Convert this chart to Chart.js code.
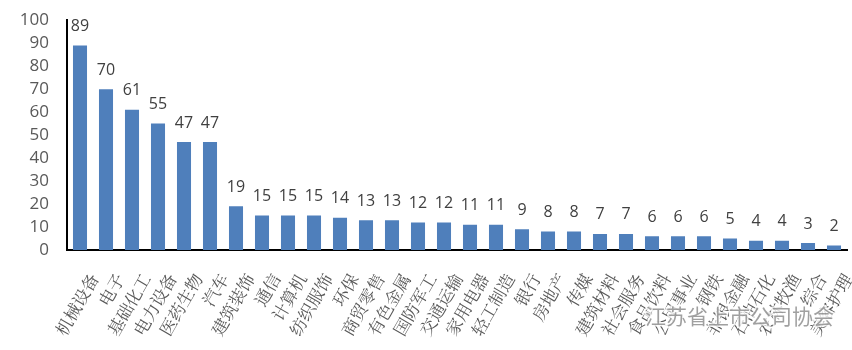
<!DOCTYPE html>
<html>
<head>
<meta charset="utf-8">
<script src="https://cdn.jsdelivr.net/npm/chart.js@4.4.1/dist/chart.umd.min.js"></script>
<style>
  html, body { margin: 0; padding: 0; background: #fff; }
  #wrap { width: 852px; height: 350px; position: relative; }
</style>
</head>
<body>
<div id="wrap"><canvas id="chart"></canvas></div>
<script>
// 行业分布
const industries = ['机械设备', '电子', '基础化工', '电力设备', '医药生物', '汽车', '建筑装饰', '通信',
  '计算机', '纺织服饰', '环保', '商贸零售', '有色金属', '国防军工', '交通运输', '家用电器', '轻工制造',
  '银行', '房地产', '传媒', '建筑材料', '社会服务', '食品饮料', '公用事业', '钢铁', '非银金融',
  '石油石化', '农林牧渔', '综合', '美容护理'];
const counts = [89, 70, 61, 55, 47, 47, 19, 15, 15, 15, 14, 13, 13, 12, 12, 11, 11, 9, 8, 8, 7, 7, 6, 6, 6, 5, 4, 4, 3, 2];
const yTicks = [0, 10, 20, 30, 40, 50, 60, 70, 80, 90, 100];
const watermark = '江苏省上市公司协会';

// value labels above bars + watermark
const barLabels = {
  id: 'barLabels',
  afterDatasetsDraw(chart) {
    const ctx = chart.ctx;
    const meta = chart.getDatasetMeta(0);
    ctx.save();
    ctx.font = '16px "Open Sans", "DejaVu Sans", sans-serif';
    ctx.fillStyle = '#404040';
    ctx.textAlign = 'center';
    ctx.textBaseline = 'bottom';
    meta.data.forEach((bar, i) => {
      ctx.fillText(counts[i], bar.x, bar.y - 11);
    });
    ctx.restore();
  },
  afterDraw(chart) {
    const ctx = chart.ctx;
    ctx.save();
    ctx.font = '21px "Noto Sans CJK SC", sans-serif';
    ctx.textAlign = 'left';
    ctx.textBaseline = 'middle';
    ctx.lineWidth = 3;
    ctx.strokeStyle = 'rgba(255,255,255,0.8)';
    ctx.strokeText(watermark, 645, 316);
    ctx.fillStyle = 'rgba(120,120,120,0.7)';
    ctx.fillText(watermark, 645, 316);
    ctx.restore();
  }
};

new Chart(document.getElementById('chart'), {
  type: 'bar',
  data: {
    labels: industries,
    datasets: [{
      data: counts,
      backgroundColor: '#4f7fbb',
      barPercentage: 0.54,
      categoryPercentage: 1
    }]
  },
  options: {
    responsive: true,
    maintainAspectRatio: false,
    animation: false,
    layout: { padding: { top: 4, right: 5, left: 4, bottom: 0 } },
    plugins: { legend: { display: false }, tooltip: { enabled: false } },
    scales: {
      x: {
        grid: { display: false },
        border: { display: true, color: '#000', width: 2 },
        afterFit(scale) {
          scale.height = 100;
          scale.paddingRight = 0;
          scale.paddingLeft = 0;
        },
        ticks: {
          autoSkip: false,
          minRotation: 60,
          maxRotation: 60,
          color: '#595959',
          padding: 12,
          labelOffset: 14,
          font: { family: '"Noto Serif CJK SC", "Noto Sans CJK SC", serif', size: 17 }
        }
      },
      y: {
        min: 0,
        max: 100,
        grid: { display: false },
        border: { display: true, color: '#000', width: 2 },
        afterBuildTicks(scale) { scale.ticks = yTicks.map(v => ({ value: v })); },
        afterFit(scale) { scale.width = 63; },
        ticks: {
          autoSkip: false,
          color: '#595959',
          padding: 10,
          font: { family: '"Open Sans", "DejaVu Sans", sans-serif', size: 17 }
        }
      }
    }
  },
  plugins: [barLabels]
});
</script>
</body>
</html>
